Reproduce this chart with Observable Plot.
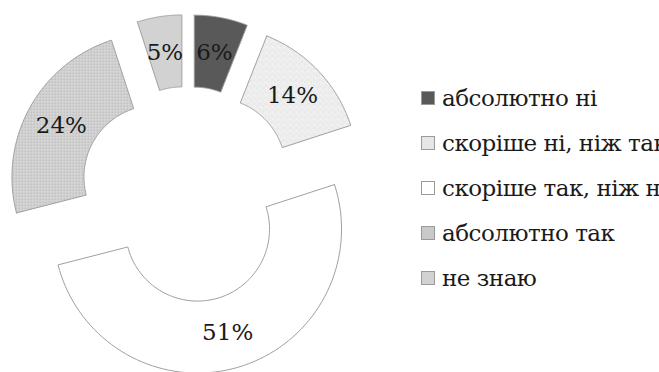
<!DOCTYPE html>
<html><head><meta charset="utf-8">
<script src="https://cdn.jsdelivr.net/npm/d3@7"></script>
<script src="https://cdn.jsdelivr.net/npm/@observablehq/plot@0.6"></script>
<style>
html,body{margin:0;padding:0;background:#fff;overflow:hidden}
#wrap{position:relative;width:659px;height:372px;overflow:hidden}
#legend{position:absolute;left:421px;top:76px;font-family:'DejaVu Serif',serif;font-size:23px;letter-spacing:-0.5px;color:#1a1a1a;white-space:nowrap}
.row{display:flex;align-items:center;height:44.8px}
.sw{width:14px;height:14px;box-sizing:border-box;border:1px solid #9a9a9a;margin-right:7px;flex:none}
</style></head><body><div id="wrap"><div id="legend"></div></div>
<script>
const categories = ["абсолютно ні","скоріше ні, ніж так","скоріше так, ніж ні","абсолютно так","не знаю"];
const values = [6,14,51,24,5];
const labels = ["6%","14%","51%","24%","5%"];

const colors = ["#595959","url(#tex14)","#ffffff","url(#dots24)","#d2d2d2"];
const swatch = ["#595959","#e6e6e6","#ffffff","#c9c9c9","#d2d2d2"];

const R = 1, r = 0.5, explode = 0.25;
const total = d3.sum(values);
const polys = [], texts = [];
let cum = 0;
values.forEach((v, i) => {
  const a0 = cum / total * 2 * Math.PI, a1 = (cum + v) / total * 2 * Math.PI;
  cum += v;
  const am = (a0 + a1) / 2;
  const ox = explode * Math.sin(am), oy = explode * Math.cos(am);
  const n = 80, pts = [];
  for (let k = 0; k <= n; k++) { const t = a0 + (a1 - a0) * k / n; pts.push([ox + R * Math.sin(t), oy + R * Math.cos(t)]); }
  for (let k = n; k >= 0; k--) { const t = a0 + (a1 - a0) * k / n; pts.push([ox + r * Math.sin(t), oy + r * Math.cos(t)]); }
  pts.push(pts[0]);
  pts.forEach(([x, y]) => polys.push({cat: categories[i], x, y}));
  const rm = (R + r) / 2;
  texts.push({cat: categories[i], label: labels[i], x: ox + rm * Math.sin(am), y: oy + rm * Math.cos(am)});
});

const plot = Plot.plot({
  width: 659, height: 372,
  marginTop: 0, marginRight: 0, marginBottom: 0, marginLeft: 0,
  x: {domain: [-187/144, 472/144], axis: null},
  y: {domain: [-178/144, 194/144], axis: null},
  color: {domain: categories, range: colors},
  style: {background: "transparent"},
  marks: [
    Plot.line(polys, {x: "x", y: "y", z: "cat", fill: "cat", stroke: "#a0a0a0", strokeWidth: 1, curve: "linear"}),
    Plot.text(texts, {x: "x", y: "y", text: "label", fontSize: 23, fontFamily: "DejaVu Serif", fill: "#1a1a1a"})
  ]
});

const ns = "http://www.w3.org/2000/svg";
const defs = document.createElementNS(ns, "defs");
defs.innerHTML = `
<pattern id="dots24" width="3" height="3" patternUnits="userSpaceOnUse">
  <rect width="3" height="3" fill="#d9d9d9"/>
  <rect x="0" y="0" width="1.5" height="1.5" fill="#b0b0b0"/>
</pattern>
<pattern id="tex14" width="6" height="6" patternUnits="userSpaceOnUse">
  <rect width="6" height="6" fill="#eeeeee"/>
  <rect x="1" y="1" width="1" height="1" fill="#d6d6d6"/>
  <rect x="4" y="3" width="1" height="1" fill="#dadada"/>
  <rect x="2" y="4" width="1" height="1" fill="#f8f8f8"/>
</pattern>`;
plot.insertBefore(defs, plot.firstChild);
plot.style.position = "absolute";
plot.style.left = "0"; plot.style.top = "0";
document.getElementById("wrap").prepend(plot);

const legend = document.getElementById("legend");
categories.forEach((c, i) => {
  const row = document.createElement("div");
  row.className = "row";
  const sw = document.createElement("span");
  sw.className = "sw";
  sw.style.background = swatch[i];
  const t = document.createElement("span");
  t.textContent = c;
  row.append(sw, t);
  legend.append(row);
});
</script>
</body></html>
